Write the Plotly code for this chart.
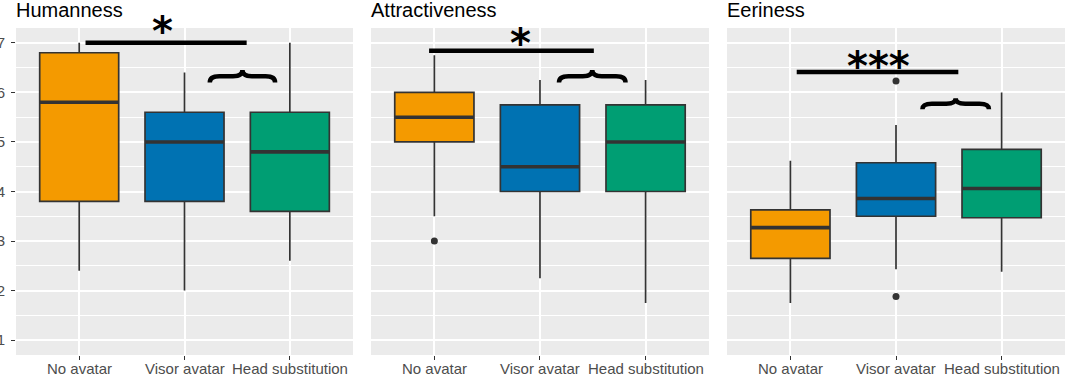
import plotly.graph_objects as go

# ---------------- data ----------------
categories = ["No avatar", "Visor avatar", "Head substitution"]
panel_titles = ["Humanness", "Attractiveness", "Eeriness"]
colors = ["#F49A00", "#0072B2", "#009E73"]

# box statistics per panel (order: No avatar, Visor avatar, Head substitution)
lower_whisker = [[2.4, 2.0, 2.6], [3.5, 2.25, 1.75], [1.75, 2.43, 2.38]]
q1_vals       = [[3.8, 3.8, 3.6], [5.0, 4.0, 4.0], [2.65, 3.5, 3.47]]
median_vals   = [[5.8, 5.0, 4.8], [5.5, 4.5, 5.0], [3.27, 3.86, 4.06]]
q3_vals       = [[6.8, 5.6, 5.6], [6.0, 5.75, 5.75], [3.63, 4.58, 4.85]]
upper_whisker = [[7.0, 6.4, 7.0], [6.75, 6.25, 6.25], [4.62, 5.34, 6.0]]

# outliers: (panel, category index, value)
outlier_panel = [1, 2, 2]
outlier_cat = [0, 1, 1]
outlier_val = [3.0, 6.23, 1.88]

# significance annotations
sig_x0 = [1.06, 0.95, 1.06]
sig_x1 = [2.59, 2.51, 2.59]
sig_y = [7.0, 6.84, 6.41]
sig_label = ["*", "*", "***"]
sig_label_x = [1.79, 1.82, 1.83]
sig_label_y = [7.35, 7.1, 6.63]

brace_x0 = [2.24, 2.18, 2.25]
brace_x1 = [2.86, 2.81, 2.88]
brace_bottom = [6.2, 6.2, 5.66]
brace_top = [6.45, 6.45, 5.88]

y_ticks = [1, 2, 3, 4, 5, 6, 7]

# ---------------- layout geometry ----------------
domains = [[0.0, 0.3213], [0.3384, 0.6606], [0.6778, 1.0]]
y_range = [0.7, 7.3]
box_width = 0.75


def y_dom(v):
    return (v - y_range[0]) / (y_range[1] - y_range[0])


fig = go.Figure()

for p in range(3):
    xa = "x" if p == 0 else f"x{p+1}"
    ya = "y" if p == 0 else f"y{p+1}"
    for c in range(3):
        fig.add_trace(go.Box(
            x=[c + 1],
            q1=[q1_vals[p][c]], median=[median_vals[p][c]], q3=[q3_vals[p][c]],
            lowerfence=[lower_whisker[p][c]], upperfence=[upper_whisker[p][c]],
            width=box_width, whiskerwidth=0,
            fillcolor=colors[c],
            line=dict(color="#333333", width=1.7),
            boxpoints=False, showlegend=False, hoverinfo="skip",
            xaxis=xa, yaxis=ya,
        ))
        # thick median line
        fig.add_trace(go.Scatter(
            x=[c + 1 - box_width / 2, c + 1 + box_width / 2],
            y=[median_vals[p][c]] * 2,
            mode="lines", line=dict(color="#333333", width=3.6),
            showlegend=False, hoverinfo="skip", xaxis=xa, yaxis=ya,
        ))
        # category tick label (drawn as annotation for exact placement)
        fig.add_annotation(xref=xa, yref=f"{ya} domain", x=c + 1, y=0,
                           xanchor="center", yanchor="top", yshift=-3,
                           text=categories[c], showarrow=False,
                           font=dict(family="Liberation Sans", size=15, color="#4D4D4D"))
    # outliers
    ox = [outlier_cat[i] + 1 for i in range(len(outlier_val)) if outlier_panel[i] == p]
    oy = [outlier_val[i] for i in range(len(outlier_val)) if outlier_panel[i] == p]
    if ox:
        fig.add_trace(go.Scatter(
            x=ox, y=oy, mode="markers",
            marker=dict(color="#333333", size=7),
            showlegend=False, hoverinfo="skip", xaxis=xa, yaxis=ya,
        ))

    # significance bar
    fig.add_shape(type="line", xref=xa, yref=ya,
                  x0=sig_x0[p], x1=sig_x1[p], y0=sig_y[p], y1=sig_y[p],
                  line=dict(color="black", width=4.5))
    fig.add_annotation(xref=xa, yref=f"{ya} domain", x=sig_label_x[p],
                       y=y_dom(sig_label_y[p]),
                       text=sig_label[p], showarrow=False, yanchor="middle",
                       yshift=-5,
                       font=dict(family="DejaVu Sans", size=40, color="black",
                                 weight="bold"))
    # curly brace (overbrace)
    bx0, bx1 = brace_x0[p], brace_x1[p]
    xc = (bx0 + bx1) / 2
    yb, yt = brace_bottom[p], brace_top[p]
    ym = (yb + yt) / 2
    r = 0.09
    path = (f"M {bx0},{yb} Q {bx0},{ym} {bx0 + r},{ym} L {xc - r},{ym} "
            f"Q {xc},{ym} {xc},{yt} Q {xc},{ym} {xc + r},{ym} "
            f"L {bx1 - r},{ym} Q {bx1},{ym} {bx1},{yb}")
    fig.add_shape(type="path", xref=xa, yref=ya, path=path,
                  line=dict(color="black", width=4.5))

    # panel title
    fig.add_annotation(xref="paper", yref="paper", x=domains[p][0], y=1,
                       xanchor="left", yanchor="bottom", yshift=5, xshift=-2,
                       text=panel_titles[p], showarrow=False,
                       font=dict(family="Liberation Sans", size=20, color="black"))

axis_common_x = dict(
    range=[0.4, 3.6], tickvals=[1, 2, 3], showticklabels=False,
    ticks="outside", ticklen=4, tickcolor="#333333", tickwidth=1,
    showgrid=True, gridcolor="white", gridwidth=2, zeroline=False,
    fixedrange=True, automargin=False,
)
layout_kwargs = {}
for p in range(3):
    key = "xaxis" if p == 0 else f"xaxis{p+1}"
    ykey = "yaxis" if p == 0 else f"yaxis{p+1}"
    layout_kwargs[key] = dict(axis_common_x, domain=domains[p],
                              anchor="y" if p == 0 else f"y{p+1}")
    ycfg = dict(
        range=y_range, tickvals=y_ticks,
        showgrid=True, gridcolor="white", gridwidth=2, zeroline=False,
        minor=dict(dtick=0.5, tick0=0.5, showgrid=True, gridcolor="white", gridwidth=1),
        anchor="x" if p == 0 else f"x{p+1}",
        fixedrange=True, automargin=False,
    )
    if p == 0:
        ycfg.update(ticks="outside", ticklen=4, tickcolor="#333333", tickwidth=1,
                    ticklabelstandoff=3,
                    tickfont=dict(family="Liberation Sans", size=15, color="#4D4D4D"))
    else:
        ycfg.update(matches="y", showticklabels=False, ticks="")
    layout_kwargs[ykey] = ycfg

fig.update_layout(
    width=1065, height=374,
    margin=dict(l=16, r=0, t=28, b=19),
    plot_bgcolor="#EBEBEB", paper_bgcolor="white",
    showlegend=False,
    **layout_kwargs,
)

fig.write_html(
    "out.html",
    config={"displayModeBar": False},
    post_script="document.body.style.margin='0';document.body.style.overflow='hidden';",
)
